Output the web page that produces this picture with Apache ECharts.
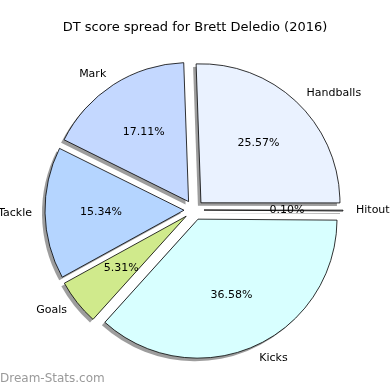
<!DOCTYPE html>
<html>
<head>
<meta charset="utf-8">
<script src="https://cdn.jsdelivr.net/npm/echarts@6/dist/echarts.min.js"></script>
<style>html,body{margin:0;padding:0;background:#fff}#c{width:390px;height:390px}</style>
</head>
<body>
<div id="c"></div>
<script>
const categories = ['Handballs', 'Hitout', 'Kicks', 'Goals', 'Tackle', 'Mark'];
const values = [25.57, 0.10, 36.58, 5.31, 15.34, 17.11];
const colors = ['#eaf2ff', '#f4f8ff', '#d8ffff', '#d0ea8c', '#b5d5ff', '#c4d8ff'];

const FONT = 'DejaVu Sans';
const R = 139;
const CX = 194, CY = 210;
const OFF = 10;
const START = 92;

const mkData = (extra) => categories.map((c, i) => Object.assign({
  name: c, value: values[i], selected: true
}, extra ? extra(i) : {}));

const common = {
  type: 'pie', startAngle: START, clockwise: true,
  selectedMode: 'multiple', selectedOffset: OFF,
  avoidLabelOverlap: false,
  emphasis: { disabled: true, scale: false }
};

const chart = echarts.init(document.getElementById('c'), null, { renderer: 'canvas' });
chart.setOption({
  animation: false,
  backgroundColor: '#fff',
  title: {
    text: 'DT score spread for Brett Deledio (2016)',
    left: 'center', top: 16,
    textStyle: { fontFamily: FONT, fontSize: 13, fontWeight: 'normal', color: '#000' }
  },
  graphic: [{
    type: 'text', left: 0, top: 373,
    style: { text: 'Dream-Stats.com', fontFamily: FONT, fontSize: 12, fontWeight: 'normal', fill: '#9a9a9a' }
  }],
  series: [Object.assign({}, common, {
    // shadow layer
    center: [CX - 3, CY + 3], radius: R, silent: true, z: 1,
    itemStyle: { color: 'rgba(60,60,60,0.5)', borderWidth: 0 },
    label: { show: false }, labelLine: { show: false },
    data: mkData()
  }), Object.assign({}, common, {
    center: [CX, CY], radius: R, z: 2,
    itemStyle: { borderColor: '#000', borderWidth: 0.8 },
    label: {
      show: true, position: 'outside', formatter: '{b}',
      fontFamily: FONT, fontSize: 11, color: '#000', distanceToLabelLine: 0
    },
    labelLine: { show: false, length: 13, length2: 0 },
    data: mkData(i => ({ itemStyle: { color: colors[i] } }))
  }), Object.assign({}, common, {
    center: [CX, CY], radius: R * 1.15, silent: true, z: 3,
    itemStyle: { color: 'rgba(0,0,0,0)', borderWidth: 0 },
    label: {
      show: true, position: 'inside',
      formatter: p => p.value.toFixed(2) + '%',
      fontFamily: FONT, fontSize: 11, color: '#000'
    },
    labelLine: { show: false },
    data: mkData()
  })]
});
</script>
</body>
</html>
